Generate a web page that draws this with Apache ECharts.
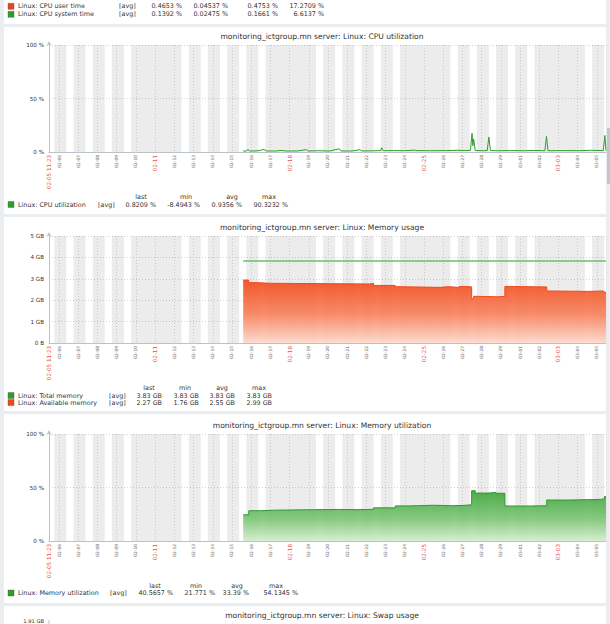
<!DOCTYPE html>
<html>
<head>
<meta charset="utf-8">
<script src="https://cdn.jsdelivr.net/npm/echarts@6.0.0/dist/echarts.min.js"></script>
<style>
html, body { margin: 0; padding: 0; background: #ebeef0; }
#main { width: 610px; height: 624px; }
</style>
</head>
<body>
<div id="main"></div>
<script>
// time range of the graphs (2024)
var startTime = '02-05 11:23';
var endTime = '03-05 11:23';

// Linux: CPU utilization, %
var cpuTimes = ['02-15 14:00', '02-15 18:00', '02-15 20:00', '02-15 22:00', '02-16 06:00', '02-16 12:00',
  '02-16 16:00', '02-16 19:00', '02-17 06:00', '02-17 14:00', '02-17 20:00', '02-18 10:00', '02-18 21:00',
  '02-18 23:00', '02-19 12:00', '02-20 02:00', '02-20 14:00', '02-20 16:00', '02-21 06:00', '02-21 16:00',
  '02-21 18:00', '02-22 08:00', '02-22 18:00', '02-22 19:00', '02-22 21:00', '02-23 10:00', '02-24 00:00',
  '02-24 12:00', '02-24 14:00', '02-25 08:00', '02-26 04:00', '02-26 18:00', '02-27 04:00', '02-27 10:00',
  '02-27 12:00', '02-27 13:00', '02-27 14:00', '02-27 16:00', '02-28 02:00', '02-28 07:00', '02-28 09:00',
  '02-28 11:00', '02-28 20:00', '02-29 12:00', '03-01 06:00', '03-01 18:00', '03-02 07:00', '03-02 09:00',
  '03-02 11:00', '03-03 06:00', '03-04 02:00', '03-04 16:00', '03-05 04:00', '03-05 08:00', '03-05 10:00',
  '03-05 11:23'];
var cpuValues = [1.0, 0.8, 2.6, 0.9, 1.0, 1.6,
  2.4, 1.0, 0.9, 1.5, 0.9, 1.0, 2.2,
  0.9, 1.2, 0.9, 3.0, 1.0, 0.9, 2.2,
  1.0, 1.1, 1.3, 4.0, 1.2, 1.3, 1.2,
  1.8, 1.3, 1.2, 1.3, 1.6, 1.4, 1.5,
  17.5, 6.0, 12.0, 1.4, 1.2, 1.4, 14.0,
  1.3, 1.2, 1.3, 1.2, 1.4, 1.2, 14.5,
  1.2, 1.3, 1.2, 1.6, 1.4, 1.3, 15.5,
  1.2];

// Linux: Total memory / Available memory, GB
var totalTimes = ['02-15 14:00', '03-05 11:23'];
var totalValues = [3.83, 3.83];
var availTimes = ['02-15 14:00', '02-15 21:00', '02-16 08:00', '02-17 00:00', '02-22 04:00', '02-22 09:00',
  '02-23 12:00', '02-23 18:00', '02-25 20:00', '02-26 06:00', '02-26 20:00', '02-27 04:00', '02-27 11:30',
  '02-27 14:00', '02-27 20:00', '02-28 20:00', '02-29 05:00', '02-29 12:00', '03-02 09:20', '03-02 16:00',
  '03-04 14:00', '03-05 07:00', '03-05 09:30', '03-05 11:23'];
var availValues = [2.94, 2.82, 2.79, 2.76, 2.79, 2.69,
  2.63, 2.60, 2.63, 2.60, 2.64, 2.62, 2.07,
  2.18, 2.16, 2.18, 2.64, 2.62, 2.43, 2.41,
  2.43, 2.40, 2.36, 2.36];

// Linux: Memory utilization, %
var utilTimes = ['02-15 14:00', '02-15 21:00', '02-16 12:00', '02-17 06:00', '02-19 00:00', '02-20 12:00',
  '02-21 12:00', '02-22 09:00', '02-23 12:00', '02-24 06:00', '02-25 12:00', '02-26 12:00', '02-27 02:00',
  '02-27 11:30', '02-27 16:00', '02-28 08:00', '02-28 18:00', '02-29 05:00', '03-01 12:00', '03-02 09:20',
  '03-03 12:00', '03-04 12:00', '03-05 05:00', '03-05 09:30', '03-05 11:23'];
var utilValues = [24.5, 28.3, 28.8, 29.2, 29.5, 29.3,
  29.6, 31.0, 32.8, 33.4, 33.0, 33.3, 33.8,
  47.0, 44.8, 45.3, 44.6, 32.7, 33.0, 38.3,
  38.6, 38.9, 39.5, 41.5, 41.0];

// y axis ticks
var pctTicks = [0, 50, 100];
var gbTicks = [0, 1, 2, 3, 4, 5];

// legend tables: last, min, avg, max
var statHeads = ['last', 'min', 'avg', 'max'];
var cpuUserStats = ['0.4653 %', '0.04537 %', '0.4753 %', '17.2709 %'];
var cpuSystemStats = ['0.1392 %', '0.02475 %', '0.1661 %', '6.6137 %'];
var cpuUtilStats = ['0.8209 %', '-8.4943 %', '0.9356 %', '90.3232 %'];
var totalMemStats = ['3.83 GB', '3.83 GB', '3.83 GB', '3.83 GB'];
var availMemStats = ['2.27 GB', '1.76 GB', '2.55 GB', '2.99 GB'];
var memUtilStats = ['40.5657 %', '21.771 %', '33.39 %', '54.1345 %'];

var FONT = 'DejaVu Sans';
var RED = '#e8544c';
var GREEN = '#2c9e2c';
var ORANGE = '#f04a1c';

function t(s) {
  return new Date(2024, +s.slice(0, 2) - 1, +s.slice(3, 5), +s.slice(6, 8), +s.slice(9, 11)).getTime();
}
function pad(n) { return n < 10 ? '0' + n : '' + n; }
function pairs(times, vals) {
  return times.map(function (s, i) { return [t(s), vals[i]]; });
}

var tMin = t(startTime);
var tMax = t(endTime);

// non-working time (before 9:00, after 18:00, weekends) drawn as grey bands
function nonWorkBands() {
  var segs = [];
  var d0 = new Date(tMin);
  var d = new Date(d0.getFullYear(), d0.getMonth(), d0.getDate());
  while (d.getTime() < tMax) {
    var base = d.getTime();
    var wd = d.getDay();
    var parts = (wd === 0 || wd === 6) ? [[0, 24]] : [[0, 9], [18, 24]];
    parts.forEach(function (p) {
      var a = base + p[0] * 3600000, b = base + p[1] * 3600000;
      if (segs.length && segs[segs.length - 1][1] === a) segs[segs.length - 1][1] = b;
      else segs.push([a, b]);
    });
    d = new Date(d.getFullYear(), d.getMonth(), d.getDate() + 1);
  }
  return segs.filter(function (s) { return s[1] > tMin && s[0] < tMax; }).map(function (s) {
    return [{ xAxis: Math.max(s[0], tMin) }, { xAxis: Math.min(s[1], tMax) }];
  });
}
var bands = {
  silent: true,
  itemStyle: { color: 'rgba(0,0,0,0.075)' },
  data: nonWorkBands()
};

function startLabel() {
  var d = new Date(tMin);
  return pad(d.getMonth() + 1) + '-' + pad(d.getDate()) + ' ' + pad(d.getHours()) + ':' + pad(d.getMinutes());
}

function xAxisFor(gi) {
  return {
    type: 'time', gridIndex: gi, min: tMin, max: tMax,
    minInterval: 86400000, maxInterval: 86400000,
    axisLine: { lineStyle: { color: '#bcc3c8', width: 1 } },
    axisTick: { show: false },
    splitLine: { show: true, lineStyle: { color: '#dadada', type: [1, 2], width: 1 } },
    axisLabel: {
      rotate: 90, margin: 3, showMaxLabel: false, hideOverlap: false,
      formatter: function (v) {
        var d = new Date(v);
        var s = pad(d.getMonth() + 1) + '-' + pad(d.getDate());
        if (v <= tMin || v >= tMax) return '';
        return d.getDay() === 0 ? '{r|' + s + '}' : '{g|' + s + '}';
      },
      rich: {
        r: { color: RED, fontSize: 5.6, fontFamily: FONT },
        g: { color: '#666', fontSize: 4.4, fontFamily: FONT }
      }
    }
  };
}
function yAxisFor(gi, ticks, fmt) {
  return {
    type: 'value', gridIndex: gi, min: ticks[0], max: ticks[ticks.length - 1],
    interval: ticks[1] - ticks[0],
    axisLine: { show: true, lineStyle: { color: '#bcc3c8' }, symbol: ['none', 'arrow'], symbolSize: [4, 5], symbolOffset: [0, 4] },
    axisTick: { show: false },
    splitLine: { lineStyle: { color: '#d4d4d4', type: [1, 2] } },
    axisLabel: { formatter: fmt, color: '#333', fontSize: 5.6, fontFamily: FONT, margin: 5 }
  };
}

function txt(x, y, s, opt) {
  opt = opt || {};
  return {
    type: 'text', x: x, y: y, silent: true, rotation: opt.rotation || 0,
    style: {
      text: s, fill: opt.fill || '#333', font: (opt.size || 6.4) + 'px ' + FONT,
      textAlign: opt.align || 'left', textVerticalAlign: 'middle'
    }
  };
}
function rect(x, y, w, h, fill) {
  return { type: 'rect', silent: true, z: -10, shape: { x: x, y: y, width: w, height: h }, style: { fill: fill } };
}

var graphics = [];
// panels
graphics.push(rect(4, -2, 602, 26, '#fff'));
graphics.push(rect(4, 27, 602, 187, '#fff'));
graphics.push(rect(4, 217, 602, 194, '#fff'));
graphics.push(rect(4, 414, 602, 189, '#fff'));
graphics.push(rect(4, 606, 602, 30, '#fff'));
graphics.push(rect(607, 128, 3, 56, '#c4c7ca'));

// titles
var titleX = 322;
graphics.push(txt(titleX, 36.5, 'monitoring_ictgroup.mn server: Linux: CPU utilization', { align: 'center', size: 7.6 }));
graphics.push(txt(titleX, 227.5, 'monitoring_ictgroup.mn server: Linux: Memory usage', { align: 'center', size: 7.6 }));
graphics.push(txt(titleX, 425, 'monitoring_ictgroup.mn server: Linux: Memory utilization', { align: 'center', size: 7.6 }));
graphics.push(txt(titleX, 615.5, 'monitoring_ictgroup.mn server: Linux: Swap usage', { align: 'center', size: 7.6 }));
graphics.push(txt(44, 621, '1.91 GB', { align: 'right', size: 5.2 }));
graphics.push({ type: 'line', silent: true, shape: { x1: 49, y1: 620, x2: 49, y2: 630 }, style: { stroke: '#bcc3c8', lineWidth: 1 } });

// legend rows
function legendRow(y, color, name, avgX, stats, rights) {
  graphics.push({ type: 'rect', silent: true, shape: { x: 8, y: y - 3, width: 6, height: 6 }, style: { fill: color, stroke: '#555', lineWidth: 0.4 } });
  graphics.push(txt(18, y, name));
  graphics.push(txt(avgX, y, '[avg]'));
  stats.forEach(function (s, i) { graphics.push(txt(rights[i], y, s, { align: 'right' })); });
}
function legendHead(y, centers) {
  statHeads.forEach(function (h, i) { graphics.push(txt(centers[i], y, h, { align: 'center' })); });
}

legendRow(6.3, '#e8451e', 'Linux: CPU user time', 119, cpuUserStats, [182, 228, 278, 324]);
legendRow(14.3, GREEN, 'Linux: CPU system time', 119, cpuSystemStats, [182, 228, 278, 324]);

legendHead(197, [141, 186, 232, 269]);
legendRow(204.5, GREEN, 'Linux: CPU utilization', 98, cpuUtilStats, [156, 200, 242, 288]);

legendHead(388, [149, 185, 222, 259]);
legendRow(395.5, GREEN, 'Linux: Total memory', 109, totalMemStats, [162, 199, 235, 272]);
legendRow(402.5, ORANGE, 'Linux: Available memory', 109, availMemStats, [162, 199, 235, 272]);

legendHead(586, [155, 196, 237, 276]);
legendRow(593, GREEN, 'Linux: Memory utilization', 110, memUtilStats, [173, 215, 249, 298]);

var chart = echarts.init(document.getElementById('main'), null, { renderer: 'svg' });
var option = {
  animation: false,
  backgroundColor: '#ebeef0',
  textStyle: { fontFamily: FONT },
  grid: [
    { left: 49, right: 4, top: 45, height: 107, outerBoundsMode: 'none' },
    { left: 49, right: 4, top: 236, height: 107, outerBoundsMode: 'none' },
    { left: 49, right: 4, top: 434, height: 107, outerBoundsMode: 'none' }
  ],
  xAxis: [xAxisFor(0), xAxisFor(1), xAxisFor(2)],
  yAxis: [
    yAxisFor(0, pctTicks, '{value} %'),
    yAxisFor(1, gbTicks, function (v) { return v === 0 ? '0 B' : v + ' GB'; }),
    yAxisFor(2, pctTicks, '{value} %')
  ],
  graphic: graphics,
  series: [
    {
      name: 'Linux: CPU utilization', type: 'line', xAxisIndex: 0, yAxisIndex: 0,
      data: pairs(cpuTimes, cpuValues), showSymbol: false,
      lineStyle: { color: GREEN, width: 1 },
      markArea: bands
    },
    {
      name: 'Linux: Available memory', type: 'line', xAxisIndex: 1, yAxisIndex: 1,
      data: pairs(availTimes, availValues), showSymbol: false, step: 'end',
      lineStyle: { color: ORANGE, width: 1 },
      areaStyle: {
        opacity: 0.92,
        color: new echarts.graphic.LinearGradient(0, 0, 0, 1, [
          { offset: 0, color: '#f24a1a' },
          { offset: 0.55, color: '#f7845f' },
          { offset: 1, color: '#fdd9cc' }
        ])
      },
      markArea: bands
    },
    {
      name: 'Linux: Total memory', type: 'line', xAxisIndex: 1, yAxisIndex: 1,
      data: pairs(totalTimes, totalValues), showSymbol: false,
      lineStyle: { color: '#6cc06a', width: 1.6 }
    },
    {
      name: 'Linux: Memory utilization', type: 'line', xAxisIndex: 2, yAxisIndex: 2,
      data: pairs(utilTimes, utilValues), showSymbol: false, step: 'end',
      lineStyle: { color: '#2e9a2e', width: 1 },
      areaStyle: {
        opacity: 0.92,
        color: new echarts.graphic.LinearGradient(0, 0, 0, 1, [
          { offset: 0, color: '#3ea43b' },
          { offset: 0.55, color: '#7cc576' },
          { offset: 1, color: '#d3eecd' }
        ])
      },
      markArea: bands
    }
  ]
};
chart.setOption(option);

// start-of-period label (red, like the Sunday labels) under each graph's first point
[0, 1, 2].forEach(function (gi) {
  var p = chart.convertToPixel({ xAxisIndex: gi, yAxisIndex: gi }, [tMin, 0]);
  graphics.push(txt(p[0], p[1] + 3, startLabel(), { align: 'right', size: 5.6, fill: RED, rotation: Math.PI / 2 }));
});
chart.setOption({ graphic: graphics });
</script>
</body>
</html>
